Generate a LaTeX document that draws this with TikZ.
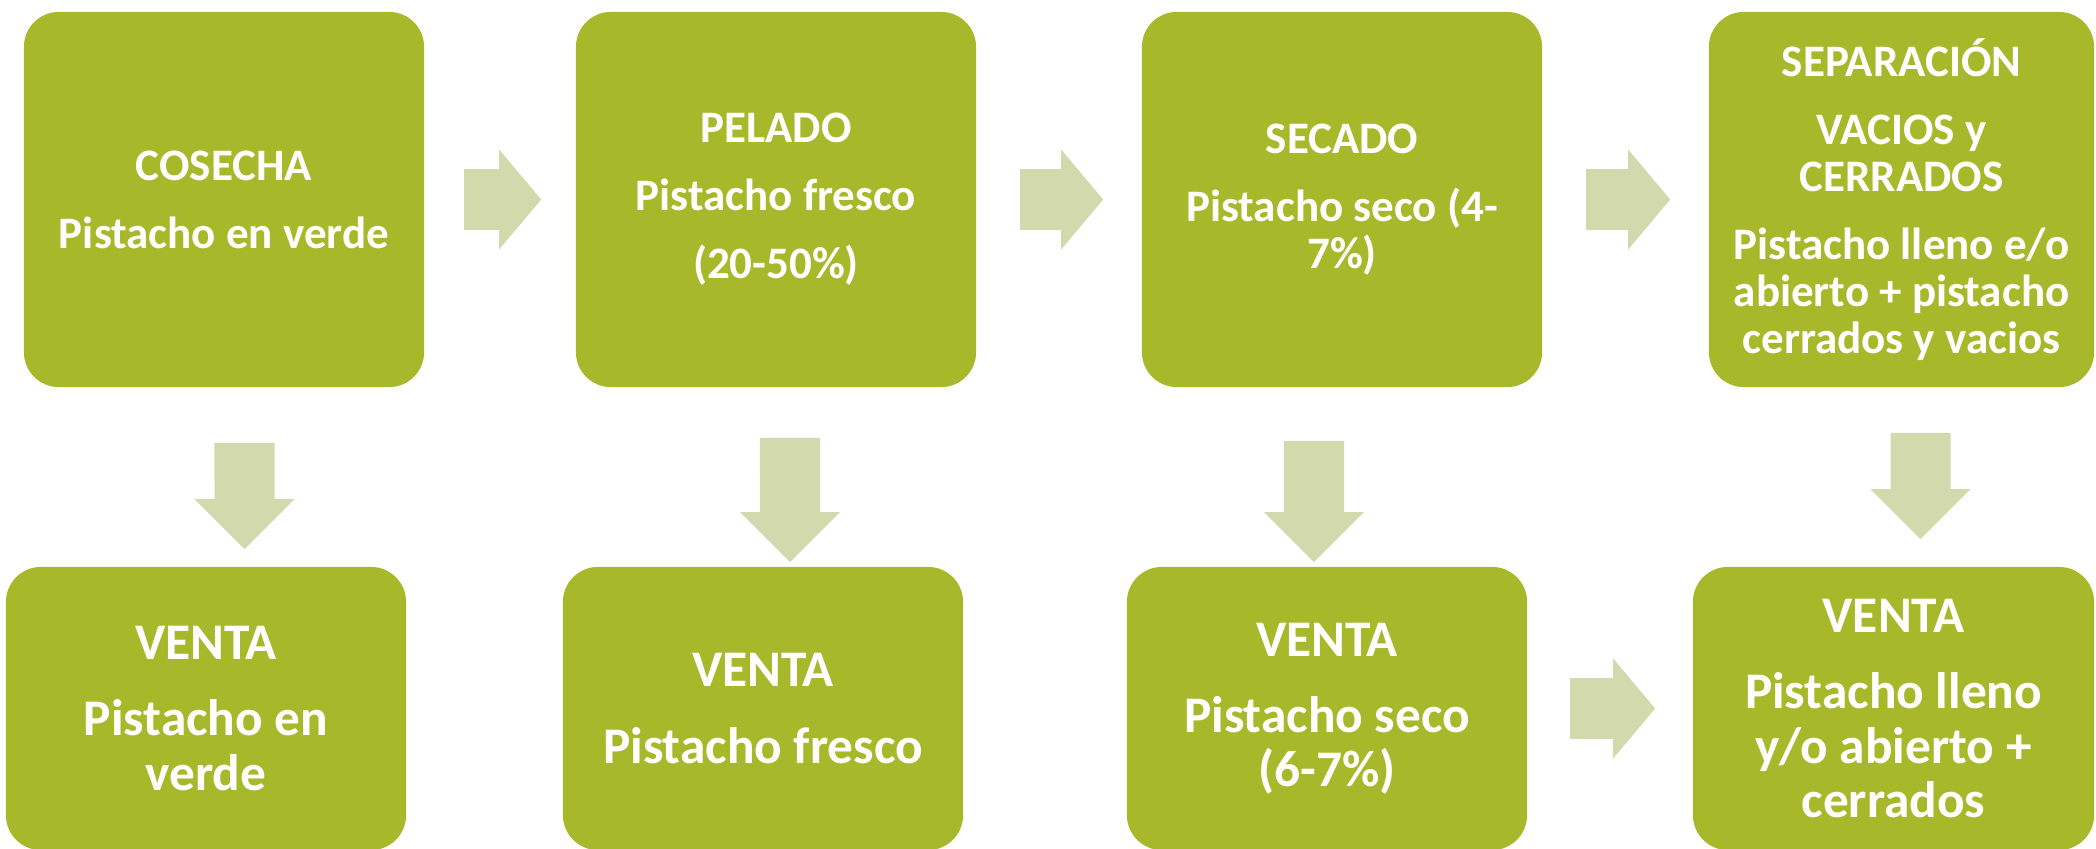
\documentclass[tikz,border=0pt]{standalone}
\usepackage{fontspec}
\setmainfont{Carlito}
\usepackage{xcolor}
\usepackage{tikz}
\usetikzlibrary{arrows.meta}
\usetikzlibrary{positioning}

\definecolor{boxgreen}{HTML}{A7B92A}
\definecolor{arrowgreen}{HTML}{D2DAAD}

\begin{document}
\begin{tikzpicture}[x=0.01cm, y=-0.01cm, font=\bfseries]
  \tikzstyle{stagebox}=[rectangle, rounded corners=0.35cm, fill=boxgreen, text=white, inner sep=0pt, align=center, minimum width=4cm, minimum height=3.75cm, font=\bfseries\fontsize{12.8}{13.4}\selectfont]
  \tikzstyle{salebox}=[stagebox, minimum height=2.83cm, font=\bfseries\fontsize{14.6}{15.4}\selectfont]
  \tikzstyle{flowright}=[draw=arrowgreen, line width=0.6cm, -{Triangle[width=1cm, length=0.42cm, line width=0pt]}]
  \tikzstyle{flowdown}=[flowright, -{Triangle[width=1cm, length=0.5cm, line width=0pt]}]
  \useasboundingbox (0,0) rectangle (2096,848);

  \node[stagebox] (cosecha) at (224,199.5) {COSECHA\\[0.21cm]Pistacho en verde};
  \node[stagebox] (pelado) at (776,199.5) {PELADO\\[0.21cm]Pistacho fresco\\[0.21cm](20-50\%)};
  \node[stagebox] (secado) at (1342,199.5) {SECADO\\[0.21cm]Pistacho seco (4-\\7\%)};
  \node[stagebox, minimum width=3.85cm] (separacion) at (1901.5,199.5) {SEPARACIÓN\\[0.21cm]VACIOS y\\CERRADOS\\[0.21cm]Pistacho lleno e/o\\abierto + pistacho\\cerrados y vacios};

  \node[salebox] (venta1) at (206,708.5) {VENTA\\[0.22cm]Pistacho en\\verde};
  \node[salebox] (venta2) at (763,708.5) {VENTA\\[0.22cm]Pistacho fresco};
  \node[salebox] (venta3) at (1327,708.5) {VENTA\\[0.22cm]Pistacho seco\\(6-7\%)};
  \node[salebox, minimum width=4.01cm] (venta4) at (1893.5,708.5) {VENTA\\[0.22cm]Pistacho lleno\\y/o abierto +\\cerrados};

  % process steps
  \draw[flowright] ([xshift=0.39cm]cosecha.east) -- ([xshift=-0.34cm]pelado.west);
  \draw[flowright] ([xshift=0.43cm]pelado.east) -- ([xshift=-0.38cm]secado.west);
  \draw[flowright] ([xshift=0.43cm]secado.east) -- ([xshift=-0.38cm]separacion.west);
  \draw[flowright] ([xshift=0.42cm]venta3.east) -- ([xshift=-0.37cm]venta4.west);

  % sales
  \draw[flowdown] ([shift={(0.205cm,-0.55cm)}]cosecha.south) -- ([shift={(0.385cm,0.17cm)}]venta1.north);
  \draw[flowdown] ([shift={(0.14cm,-0.50cm)}]pelado.south) -- ([shift={(0.27cm,0.04cm)}]venta2.north);
  \draw[flowdown] ([shift={(-0.28cm,-0.53cm)}]secado.south) -- ([shift={(-0.13cm,0.04cm)}]venta3.north);
  \draw[flowdown] ([shift={(0.19cm,-0.45cm)}]separacion.south) -- ([shift={(0.27cm,0.27cm)}]venta4.north);
\end{tikzpicture}
\end{document}
